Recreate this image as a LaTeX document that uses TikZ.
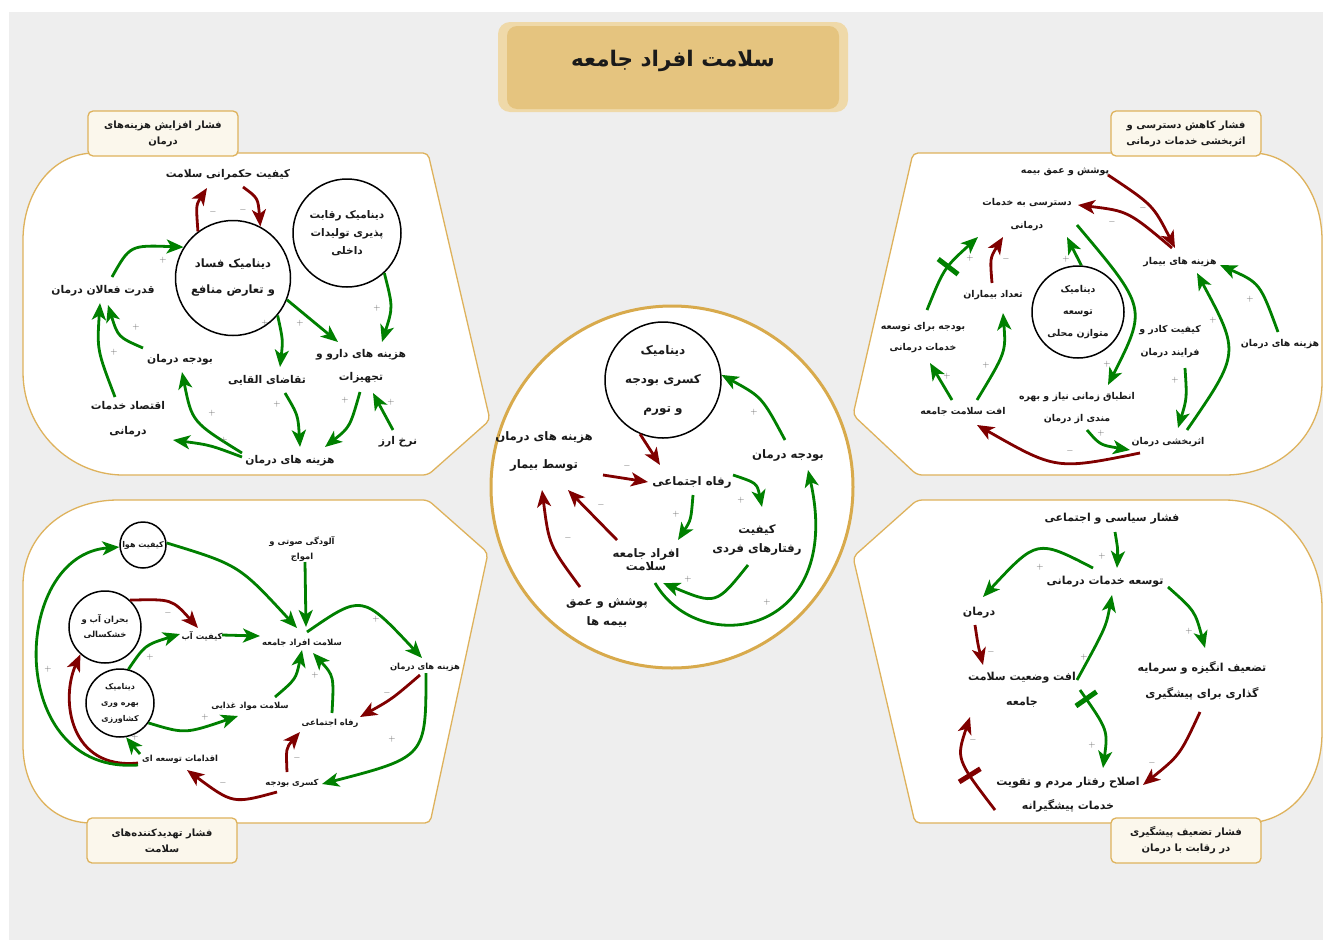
\documentclass[tikz,border=0pt]{standalone}
\usepackage{fontspec}
\usetikzlibrary{arrows.meta,calc}
\TeXXeTstate=1
\newfontfamily\arfont[Script=Arabic]{DejaVu Sans}
\newcommand\fatxt[1]{\beginR #1\endR}
\definecolor{bgc}{HTML}{EEEEEE}
\definecolor{tanb}{HTML}{DEB25C}
\definecolor{tanc}{HTML}{D8AA4C}
\definecolor{ttlout}{HTML}{EFD9A9}
\definecolor{ttlin}{HTML}{E5C47F}
\definecolor{tagf}{HTML}{FBF7EC}
\definecolor{garrow}{HTML}{008000}
\definecolor{rarrow}{HTML}{800000}
\definecolor{txt}{HTML}{1A1A1A}
\tikzset{
  lbl/.style={font=\arfont\bfseries\fontsize{10.7}{#1}\selectfont, align=center, inner sep=1pt, text=txt},
  lbl/.default=23,
  lblr/.style={font=\arfont\bfseries\fontsize{9.4}{#1}\selectfont, align=center, inner sep=1pt, text=txt},
  lblr/.default=23,
  lblb/.style={font=\arfont\bfseries\fontsize{11}{#1}\selectfont, align=center, inner sep=1pt, text=txt},
  lblb/.default=23,
  lbls/.style={font=\arfont\bfseries\fontsize{8.4}{#1}\selectfont, align=center, inner sep=1pt, text=txt},
  lbls/.default=15,
  lblc/.style={font=\arfont\bfseries\fontsize{11.7}{#1}\selectfont, align=center, inner sep=1pt, text=txt},
  lblc/.default=23,
  dyn/.style={circle, draw=black, line width=1.5pt, fill=white, align=center, inner sep=0pt, text=txt},
  ga/.style={draw=garrow, line width=2.8pt, -{Stealth[length=17pt,width=14pt,inset=4.5pt]}},
  ra/.style={draw=rarrow, line width=2.8pt, -{Stealth[length=17pt,width=14pt,inset=4.5pt]}},
  hashg/.style={sloped, fill=garrow, inner sep=0pt, minimum width=5pt, minimum height=25pt},
  hashr/.style={sloped, fill=rarrow, inner sep=0pt, minimum width=5pt, minimum height=25pt},
  sgnn/.style={font=\fontsize{9}{9}\selectfont, text=black!60, inner sep=0pt},
  panel/.style={fill=white, draw=tanb, line width=1.3pt, rounded corners=5pt},
  tagbox/.style={rectangle, rounded corners=5pt, fill=tagf, draw=tanb, line width=1.3pt,
     minimum width=150pt, minimum height=45pt, align=center, inner sep=2pt,
     font=\arfont\bfseries\fontsize{10}{16}\selectfont, text=txt}
}
\begin{document}
\begin{tikzpicture}[x=1pt,y=-1pt]
\useasboundingbox (0,0) rectangle (1323,940);
\fill[white] (0,0) rectangle (1323,940);
\fill[bgc] (9,12) rectangle (1323,940);

% panels
\draw[panel] (23,245) .. controls (23,195) and (50,153) .. (100,153) -- (428,153) -- (490,420) -- (428,475) -- (128,475) .. controls (70,475) and (23,430) .. (23,367) -- cycle;
\draw[panel] (913,153) -- (1247,153) .. controls (1295,153) and (1322,195) .. (1322,245) -- (1322,377) .. controls (1322,435) and (1280,475) .. (1220,475) -- (917,475) -- (853,415) -- cycle;
\draw[panel] (23,590) .. controls (23,535) and (65,500) .. (123,500) -- (428,500) -- (488,553) -- (430,823) -- (97,823) .. controls (50,823) and (23,790) .. (23,740) -- cycle;
\draw[panel] (917,500) -- (1220,500) .. controls (1280,500) and (1322,550) .. (1322,613) -- (1322,727) .. controls (1322,785) and (1290,823) .. (1240,823) -- (915,823) -- (853,557) -- cycle;

% center circle
\node[circle, fill=white, draw=tanc, line width=3pt, minimum size=362pt, inner sep=0pt] (cc) at (672,487) {};

% title
\fill[ttlout, rounded corners=12pt] (498,22) rectangle (848,112);
\fill[ttlin, rounded corners=10pt] (507,26) rectangle (839,109);
\node[font=\arfont\bfseries\fontsize{21.5}{26}\selectfont, text=txt] (title) at (673,61) {\fatxt{سلامت افراد جامعه}};

% tags
\node[tagbox] (tagTL) at (163,133.5) {\fatxt{فشار افزایش هزینه^^^^200cهای}\\\fatxt{درمان}};
\node[tagbox] (tagTR) at (1186,133.5) {\fatxt{فشار کاهش دسترسی و}\\\fatxt{اثربخشی خدمات درمانی}};
\node[tagbox] (tagBL) at (162,840.5) {\fatxt{فشار تهدیدکننده^^^^200cهای}\\\fatxt{سلامت}};
\node[tagbox] (tagBR) at (1186,840.5) {\fatxt{فشار تضعیف پیشگیری}\\\fatxt{در رقابت با درمان}};

% ---------- top-left ----------
\node[lbl] (kif) at (228,175) {\fatxt{کیفیت حکمرانی سلامت}};
\node[dyn, minimum size=115pt, font=\arfont\bfseries\fontsize{11.5}{26}\selectfont] (fraud) at (233,278) {\fatxt{دینامیک فساد}\\\fatxt{و تعارض منافع}};
\node[dyn, minimum size=108pt, font=\arfont\bfseries\fontsize{10.5}{18}\selectfont] (rival) at (347,233) {\fatxt{دینامیک رقابت}\\\fatxt{پذیری تولیدات}\\\fatxt{داخلی}};
\node[lbl] (qod) at (103,291) {\fatxt{قدرت فعالان درمان}};
\node[lbl] (bud1) at (180,360) {\fatxt{بودجه درمان}};
\node[lbl=25] (eqt) at (128,419) {\fatxt{اقتصاد خدمات}\\\fatxt{درمانی}};
\node[lbl] (taq) at (267,380) {\fatxt{تقاضای القایی}};
\node[lbl] (drug) at (361,366) {\fatxt{هزینه های دارو و}\\\fatxt{تجهیزات}};
\node[lbl] (fx) at (398,442) {\fatxt{نرخ ارز}};
\node[lbl] (hc1) at (290,461) {\fatxt{هزینه های درمان}};

\draw[ra] (fraud.127) .. controls (196,205) .. ($(kif)+(-21,13)$);
\draw[ra] ($(kif)+(15,12)$) .. controls (258,198) .. (fraud.62);
\draw[ga] ($(qod)+(9,-14)$) .. controls (130,245) .. (fraud.148);
\draw[ga] ($(bud1)+(-37,-12)$) .. controls (118,337) .. ($(qod)+(5,14)$);
\draw[ga] ($(eqt)+(-13,-22)$) .. controls (97,350) .. ($(qod)+(-3,12)$);
\draw[ga] (fraud.320) .. controls (283,340) .. ($(taq)+(13,-13)$);
\draw[ga] (fraud.338) -- ($(drug)+(-23,-24)$);
\draw[ga] (rival.313) .. controls (393,307) .. ($(drug)+(21,-24)$);
\draw[ga] ($(taq)+(18,13)$) .. controls (298,415) .. ($(hc1)+(10,-14)$);
\draw[ga] ($(drug)+(-1,26)$) .. controls (350,427) .. ($(hc1)+(35,-14)$);
\draw[ga] ($(fx)+(-5,-12)$) -- ($(drug)+(12,27)$);
\draw[ga] ($(hc1)+(-48,-8)$) .. controls (192,422) .. ($(bud1)+(2,12)$);
\draw[ga] ($(hc1)+(-48,-4)$) .. controls (210,445) .. ($(eqt)+(45,21)$);

% ---------- top-right ----------
\node[lblr] (ins) at (1065,172) {\fatxt{پوشش و عمق بیمه}};
\node[lblr] (acc) at (1027,215) {\fatxt{دسترسی به خدمات}\\\fatxt{درمانی}};
\node[lblr] (pc) at (1180,262) {\fatxt{هزینه های بیمار}};
\node[dyn, minimum size=92pt, font=\arfont\bfseries\fontsize{9.4}{22}\selectfont] (bal) at (1078,312) {\fatxt{دینامیک}\\\fatxt{توسعه}\\\fatxt{متوازن محلی}};
\node[lblr] (pat) at (993,295) {\fatxt{تعداد بیماران}};
\node[lblr=21] (bdev) at (923,338) {\fatxt{بودجه برای توسعه}\\\fatxt{خدمات درمانی}};
\node[lblr] (qual) at (1170,342) {\fatxt{کیفیت کادر و}\\\fatxt{فرایند درمان}};
\node[lblr] (hc2) at (1280,344) {\fatxt{هزینه های درمان}};
\node[lblr=22] (match) at (1077,408) {\fatxt{انطباق زمانی نیاز و بهره}\\\fatxt{مندی از درمان}};
\node[lblr] (dec) at (963,412) {\fatxt{افت سلامت جامعه}};
\node[lblr] (eff) at (1168,442) {\fatxt{اثربخشی درمان}};

\draw[ra] ($(ins)+(43,3)$) .. controls (1153,205) .. ($(pc)+(-5,-14)$);
\draw[ra] ($(pc)+(-8,-14)$) .. controls (1128,211) .. ($(acc)+(51,-10)$);
\draw[ga] ($(acc)+(50,10)$) .. controls (1147,308) .. ($(match)+(31,-23)$);
\draw[ga] (bal.86) -- ($(acc)+(40,22)$);
\draw[ra] ($(pat)+(-1,-12)$) .. controls (990,258) .. ($(acc)+(-24,22)$);
\draw[ga] ($(bdev)+(4,-28)$) .. controls (944,268) .. ($(acc)+(-49,22)$) node[hashg, pos=0.55] (h1) {};
\draw[ga] ($(dec)+(14,-12)$) .. controls (1006,352) .. ($(pat)+(10,18)$);
\draw[ga] ($(dec)+(-11,-12)$) -- ($(bdev)+(7,25)$);
\draw[ra] ($(eff)+(-28,11)$) .. controls (1056,470) .. ($(dec)+(14,13)$);
\draw[ga] ($(match)+(10,22)$) .. controls (1100,445) .. ($(eff)+(-38,8)$);
\draw[ga] ($(qual)+(15,26)$) .. controls (1187,398) .. ($(eff)+(10,-14)$);
\draw[ga] ($(eff)+(19,-12)$) .. controls (1240,353) .. ($(pc)+(17,11)$);
\draw[ga] ($(hc2)+(-2,-12)$) .. controls (1260,283) .. ($(pc)+(40,3)$);

% ---------- bottom-left ----------
\node[dyn, minimum size=46pt, font=\arfont\bfseries\fontsize{8}{9}\selectfont] (air) at (143,545) {\fatxt{کیفیت هوا}};
\node[dyn, minimum size=72pt, font=\arfont\bfseries\fontsize{8.4}{15}\selectfont] (water) at (105,627) {\fatxt{بحران آب و}\\\fatxt{خشکسالی}};
\node[dyn, minimum size=68pt, font=\arfont\bfseries\fontsize{8}{16}\selectfont] (agri) at (120,703) {\fatxt{دینامیک}\\\fatxt{بهره وری}\\\fatxt{کشاورزی}};
\node[lbls] (noise) at (302,549) {\fatxt{آلودگی صوتی و}\\\fatxt{امواج}};
\node[lbls] (wq) at (202,636) {\fatxt{کیفیت آب}};
\node[lbls] (hs) at (302,643) {\fatxt{سلامت افراد جامعه}};
\node[lbls] (hc3) at (425,667) {\fatxt{هزینه های درمان}};
\node[lbls] (food) at (250,706) {\fatxt{سلامت مواد غذایی}};
\node[lbls] (wel) at (330,723) {\fatxt{رفاه اجتماعی}};
\node[lbls] (dev) at (180,759) {\fatxt{اقدامات توسعه ای}};
\node[lbls] (bd) at (292,783) {\fatxt{کسری بودجه}};

\draw[ga] (air.5) .. controls (239,565) .. ($(hs)+(-5,-15)$);
\draw[ga] ($(noise)+(3,13)$) -- ($(hs)+(4,-16)$);
\draw[ra] (water.47) .. controls (172,599) .. ($(wq)+(-4,-8)$);
\draw[ga] ($(wq)+(20,-1)$) -- ($(hs)+(-42,-7)$);
\draw[ga] (agri.76) .. controls (145,645) .. ($(wq)+(-22,-2)$);
\draw[ga] (agri.325) .. controls (185,734) .. ($(food)+(-12,10)$);
\draw[ga] ($(food)+(25,-9)$) .. controls (296,679) .. ($(hs)+(0,7)$);
\draw[ga] ($(wel)+(2,-10)$) .. controls (334,676) .. ($(hs)+(11,10)$);
\draw[ga] ($(hs)+(5,-11)$) .. controls (362,594) .. ($(hc3)+(-3,-9)$);
\draw[ra] ($(hc3)+(-5,8)$) .. controls (392,699) .. ($(wel)+(30,-6)$);
\draw[ga] ($(hc3)+(1,6)$) .. controls (426,757) .. ($(bd)+(30,1)$);
\draw[ra] ($(bd)+(-5,-11)$) .. controls (286,748) .. ($(wel)+(-30,9)$);
\draw[ra] ($(bd)+(-15,9)$) .. controls (233,804) .. ($(dev)+(7,11)$);
\draw[ga] ($(dev)+(-40,-5)$) -- (agri.280);
\draw[ra] ($(dev)+(-42,4)$) .. controls (70,770) and (60,700) .. (water.228);
\draw[ga] ($(dev)+(-42,6)$) .. controls (5,775) and (10,555) .. (air.185);

% ---------- bottom-right ----------
\node[lblb] (pol) at (1112,519) {\fatxt{فشار سیاسی و اجتماعی}};
\node[lblb] (dvs) at (1105,582) {\fatxt{توسعه خدمات درمانی}};
\node[lblb] (trt) at (979,613) {\fatxt{درمان}};
\node[lblb=26] (weak) at (1202,681) {\fatxt{تضعیف انگیزه و سرمایه}\\\fatxt{گذاری برای پیشگیری}};
\node[lblb=25] (decl) at (1022,690) {\fatxt{افت وضعیت سلامت}\\\fatxt{جامعه}};
\node[lblb=24] (ref) at (1068,795) {\fatxt{اصلاح رفتار مردم و تقویت}\\\fatxt{خدمات پیشگیرانه}};

\draw[ga] ($(pol)+(3,13)$) .. controls (1118,550) .. ($(dvs)+(12,-14)$);
\draw[ga] ($(dvs)+(-12,-14)$) .. controls (1037,539) .. ($(trt)+(4,-16)$);
\draw[ga] ($(dvs)+(63,5)$) .. controls (1195,611) .. ($(weak)+(3,-33)$);
\draw[ra] ($(trt)+(-4,12)$) .. controls (978,645) .. ($(decl)+(-39,-25)$);
\draw[ga] ($(decl)+(55,-10)$) .. controls (1106,627) .. ($(dvs)+(7,13)$);
\draw[ga] ($(decl)+(58,0)$) .. controls (1108,730) .. ($(ref)+(35,-27)$) node[hashg, pos=0.08] (h2) {};
\draw[ra] ($(weak)+(-2,31)$) .. controls (1180,755) .. ($(ref)+(75,-10)$);
\draw[ra] ($(ref)+(-73,15)$) .. controls (956,759) .. ($(decl)+(-52,27)$) node[hashr, pos=0.3] (h3) {};

% ---------- center ----------
\node[dyn, minimum size=116pt, font=\arfont\bfseries\fontsize{12}{29}\selectfont] (cbt) at (663,380) {\fatxt{دینامیک}\\\fatxt{کسری بودجه}\\\fatxt{و تورم}};
\node[lblc=28] (hcp) at (544,451) {\fatxt{هزینه های درمان}\\\fatxt{توسط بیمار}};
\node[lblc] (cbud) at (788,455) {\fatxt{بودجه درمان}};
\node[lblc] (cwel) at (692,482) {\fatxt{رفاه اجتماعی}};
\node[lblc=19] (ckif) at (757,540) {\fatxt{کیفیت}\\\fatxt{رفتارهای فردی}};
\node[lblc=13] (cpeople) at (646,560) {\fatxt{افراد جامعه}\\\fatxt{سلامت}};
\node[lblc=20] (cins) at (607,613) {\fatxt{پوشش و عمق}\\\fatxt{بیمه ها}};

\draw[ra] (cbt.247) -- ($(cwel)+(-32,-17)$);
\draw[ra] ($(hcp)+(59,24)$) -- ($(cwel)+(-44,0)$);
\draw[ga] ($(cbud)+(-3,-15)$) .. controls (762,397) .. (cbt.5);
\draw[ga] ($(cwel)+(41,-7)$) .. controls (757,483) .. ($(ckif)+(5,-33)$);
\draw[ga] ($(cwel)+(1,13)$) .. controls (691,520) .. ($(cpeople)+(32,-20)$);
\draw[ra] ($(cpeople)+(-29,-20)$) -- ($(hcp)+(24,39)$);
\draw[ra] ($(cins)+(-27,-26)$) .. controls (549,545) .. ($(hcp)+(-2,39)$);
\draw[ga] ($(ckif)+(-9,25)$) .. controls (716,605) .. ($(cpeople)+(17,23)$);
\draw[ga] ($(cpeople)+(9,23)$) .. controls (700,660) and (845,635) .. ($(cbud)+(20,15)$);

% polarity signs
\foreach \px/\py/\sg [count=\i] in {
 213/212/-, 243/210/-, 163/260/+, 136/327/+, 114/352/+, 265/323/+, 300/323/+, 377/308/+, 277/404/+, 345/400/+, 391/402/+, 212/413/+, 224/440/+,
 1143/208/-, 1112/222/-, 1107/364/+, 1066/259/+, 1006/259/-, 970/258/+, 986/365/+, 947/376/+, 1070/451/-, 1101/433/+, 1175/380/+, 1213/320/+, 1250/299/+,
 168/613/-, 150/657/+, 205/717/+, 315/675/+, 376/619/+, 387/693/-, 392/739/+, 297/758/-, 223/783/-, 135/737/+, 48/669/+,
 1102/556/+, 1040/567/+, 1189/631/+, 991/652/-, 1084/657/+, 1092/745/+, 1152/763/-, 973/740/-,
 627/466/-, 754/412/+, 741/500/+, 676/514/+, 601/505/-, 568/538/-, 688/579/+, 767/602/+}
 \node[sgnn] (sgn\i) at (\px,\py) {$\sg$};
\end{tikzpicture}
\end{document}
